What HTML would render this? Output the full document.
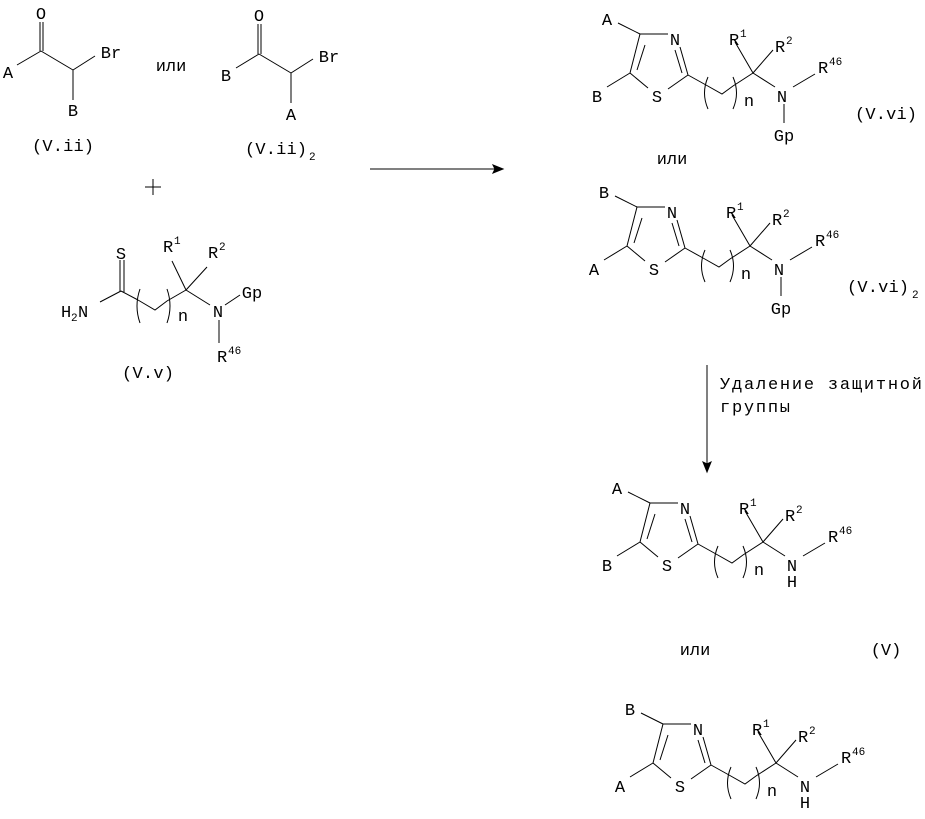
<!DOCTYPE html>
<html><head><meta charset="utf-8"><style>
html,body{margin:0;padding:0;background:#fff;}
svg{display:block;}
text{font-family:"Liberation Mono","DejaVu Sans Mono",monospace;font-size:17px;fill:#000;}
.s{font-size:11px;}
line,path,polyline{stroke:#000;stroke-width:1;fill:none;}
</style></head><body>
<svg width="925" height="819" viewBox="0 0 925 819" xmlns="http://www.w3.org/2000/svg">
<!-- V.ii -->
<line x1="40" y1="22" x2="40" y2="51"/><line x1="43" y1="22" x2="43" y2="51"/>
<line x1="17" y1="65" x2="41" y2="51"/><line x1="41" y1="51" x2="73" y2="70"/>
<line x1="73" y1="70" x2="95" y2="56"/><line x1="73" y1="70" x2="73" y2="100"/>
<text x="41" y="19" text-anchor="middle">O</text>
<text x="8" y="78" text-anchor="middle">A</text>
<text x="111" y="58" text-anchor="middle">Br</text>
<text x="73" y="116" text-anchor="middle">B</text>
<text x="63" y="151" text-anchor="middle" textLength="62">(V.ii)</text>
<text x="171" y="71" text-anchor="middle">или</text>
<!-- V.ii2 -->
<line x1="258" y1="24" x2="258" y2="54"/><line x1="261" y1="24" x2="261" y2="54"/>
<line x1="236" y1="68" x2="259" y2="54"/><line x1="259" y1="54" x2="291" y2="73"/>
<line x1="291" y1="73" x2="313" y2="59"/><line x1="291" y1="73" x2="291" y2="103"/>
<text x="259" y="21" text-anchor="middle">O</text>
<text x="226" y="81" text-anchor="middle">B</text>
<text x="329" y="62" text-anchor="middle">Br</text>
<text x="291" y="120" text-anchor="middle">A</text>
<text x="245" y="154" textLength="62">(V.ii)</text><text x="309" y="160" class="s">2</text>
<!-- plus -->
<line x1="145" y1="187" x2="161" y2="187"/><line x1="153" y1="179" x2="153" y2="195"/>
<!-- V.v -->
<line x1="120" y1="260" x2="120" y2="292"/><line x1="124" y1="260" x2="124" y2="292"/>
<line x1="100" y1="302" x2="121" y2="291"/>
<line x1="121" y1="291" x2="138" y2="300"/>
<polyline points="138,300 155,310 167,301 186,290"/>
<path d="M140,289 Q134,306 140,323"/><path d="M167,289 Q173,306 167,323"/>
<line x1="186" y1="290" x2="172" y2="261"/><line x1="186" y1="290" x2="207" y2="267"/>
<line x1="186" y1="290" x2="210" y2="305"/>
<line x1="225" y1="305" x2="240" y2="295"/><line x1="219" y1="320" x2="219" y2="343"/>
<text x="121" y="259" text-anchor="middle">S</text>
<text x="61" y="317">H</text><text x="71" y="321" class="s">2</text><text x="78" y="317">N</text>
<text x="163" y="252">R</text><text x="174" y="244" class="s">1</text>
<text x="208" y="258">R</text><text x="219" y="250" class="s">2</text>
<text x="218" y="317" text-anchor="middle">N</text>
<text x="252" y="298" text-anchor="middle">Gp</text>
<text x="217" y="362">R</text><text x="228" y="354" class="s">46</text>
<text x="183" y="321" text-anchor="middle">n</text>
<text x="148" y="378" text-anchor="middle" textLength="52">(V.v)</text>
<!-- arrows -->
<line x1="370" y1="169" x2="497" y2="169"/><path d="M503,169 L493,165 L495,169 L493,173 Z" style="fill:#000"/>
<line x1="707" y1="365" x2="707" y2="465"/><path d="M707,472 L703,462 L707,464 L711,462 Z" style="fill:#000"/>
<text x="720" y="389" textLength="202">Удаление защитной</text>
<text x="720" y="412" textLength="70">группы</text>

<!-- thiazole structures -->
<g id="t1">
<line x1="640" y1="34" x2="618" y2="23"/><line x1="640" y1="34" x2="668" y2="34"/>
<line x1="680" y1="47" x2="688" y2="75"/><line x1="675" y1="50" x2="682" y2="73"/>
<line x1="688" y1="75" x2="668" y2="89"/><line x1="648" y1="88" x2="630" y2="73"/>
<line x1="630" y1="73" x2="640" y2="34"/><line x1="637" y1="70" x2="645" y2="45"/>
<line x1="630" y1="73" x2="607" y2="87"/>
<line x1="688" y1="75" x2="706" y2="85"/>
<polyline points="706,85 722,94 733,86 753,73"/>
<path d="M708,77 Q701,93 708,109"/><path d="M733,77 Q740,93 733,109"/>
<line x1="753" y1="73" x2="735" y2="42"/><line x1="753" y1="73" x2="773" y2="50"/>
<line x1="753" y1="73" x2="775" y2="87"/><line x1="793" y1="87" x2="815" y2="74"/>
<text x="675" y="45" text-anchor="middle">N</text><text x="657" y="102" text-anchor="middle">S</text>
<text x="729" y="45">R</text><text x="740" y="37" class="s">1</text>
<text x="775" y="52">R</text><text x="786" y="44" class="s">2</text>
<text x="782" y="102" text-anchor="middle">N</text>
<text x="818" y="73">R</text><text x="829" y="65" class="s">46</text>
<text x="749" y="106" text-anchor="middle">n</text>
</g>
<text x="607" y="25" text-anchor="middle">A</text><text x="597" y="102" text-anchor="middle">B</text>
<line x1="784" y1="104" x2="784" y2="123"/><text x="784" y="141" text-anchor="middle">Gp</text>
<text x="886" y="119" text-anchor="middle" textLength="62">(V.vi)</text>
<text x="672" y="164" text-anchor="middle">или</text>

<use href="#t1" transform="translate(-3,173)"/>
<text x="604" y="198" text-anchor="middle">B</text><text x="594" y="275" text-anchor="middle">A</text>
<line x1="781" y1="277" x2="781" y2="296"/><text x="781" y="314" text-anchor="middle">Gp</text>
<text x="847" y="292" textLength="62">(V.vi)</text><text x="912" y="298" class="s">2</text>

<use href="#t1" transform="translate(10,469)"/>
<text x="617" y="494" text-anchor="middle">A</text><text x="607" y="571" text-anchor="middle">B</text>
<text x="792" y="587" text-anchor="middle">H</text>
<text x="695" y="655" text-anchor="middle">или</text>
<text x="886" y="655" text-anchor="middle">(V)</text>

<use href="#t1" transform="translate(23,690)"/>
<text x="630" y="715" text-anchor="middle">B</text><text x="620" y="792" text-anchor="middle">A</text>
<text x="805" y="808" text-anchor="middle">H</text>
</svg>
</body></html>
